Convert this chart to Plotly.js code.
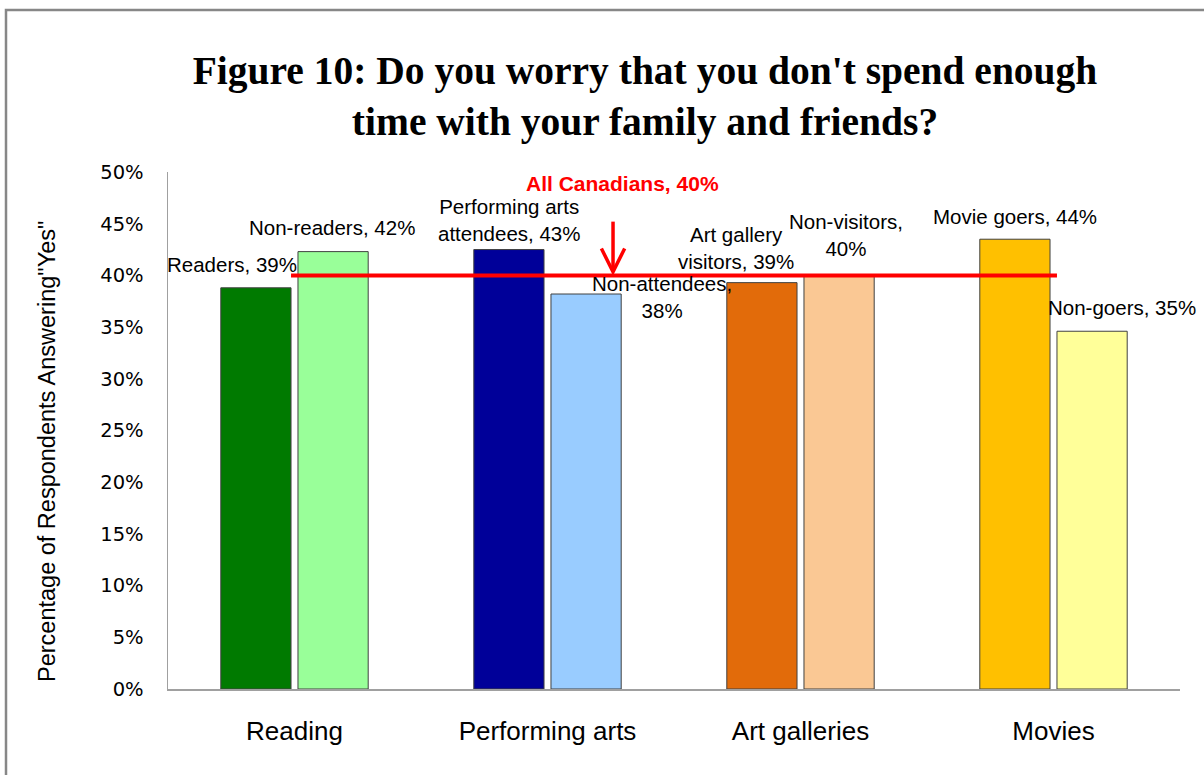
<!DOCTYPE html>
<html>
<head>
<meta charset="utf-8">
<script src="https://cdn.plot.ly/plotly-3.0.1.min.js"></script>
<style>
  html, body { margin: 0; padding: 0; background: #fff; overflow: hidden; }
  #chart { width: 1204px; height: 775px; }
</style>
</head>
<body>
<div id="chart"></div>
<script>
// ---- data ----
const categories = ['Reading', 'Performing arts', 'Art galleries', 'Movies'];
const series1Names = ['Readers', 'Performing arts<br>attendees', 'Art gallery<br>visitors', 'Movie goers'];
const series1Values = [38.8, 42.5, 39.3, 43.5];
const series2Names = ['Non-readers', 'Non-attendees', 'Non-visitors', 'Non-goers'];
const series2Values = [42.3, 38.2, 39.9, 34.6];
const allCanadians = 40;
const allCanadiansLabel = 'All Canadians';

// ---- styles ----
const series1Colors = ['#007A00', '#000099', '#E26B0A', '#FFC000'];
const series2Colors = ['#99FF99', '#99CCFF', '#FAC894', '#FFFF99'];
const bargap = 0.39, bargroupgap = 0.09;
const off = (1 - bargap) / 4;
const halfBar = ((1 - bargap) / 2) * (1 - bargroupgap) / 2;

// label separators and pixel offsets (dx right, dy down) relative to bar top centre
const sep1 = [', ', ', ', ', ', ', '];
const sep2 = [', ', ',<br>', ',<br>', ', '];
const lab1Off = [[-24, -23], [0, -30], [-26, -35], [0, -23]];
const lab2Off = [[-1, -24], [76, 3], [7, -41], [30, -24]];

const labelFont = {family: 'Liberation Sans, Arial, sans-serif', size: 20.5, color: '#000'};

const annotations = [];
categories.forEach((c, i) => {
  annotations.push({
    x: i - off, y: series1Values[i], xref: 'x', yref: 'y',
    text: series1Names[i] + sep1[i] + Math.round(series1Values[i]) + '%',
    showarrow: false, xanchor: 'center', yanchor: 'middle',
    xshift: lab1Off[i][0], yshift: -lab1Off[i][1], font: labelFont
  });
  annotations.push({
    x: i + off, y: series2Values[i], xref: 'x', yref: 'y',
    text: series2Names[i] + sep2[i] + Math.round(series2Values[i]) + '%',
    showarrow: false, xanchor: 'center', yanchor: 'middle',
    xshift: lab2Off[i][0], yshift: -lab2Off[i][1], font: labelFont
  });
});
// All Canadians label
annotations.push({
  x: 1.298, y: allCanadians, xref: 'x', yref: 'y', yshift: 92,
  text: '<b>' + allCanadiansLabel + ', ' + allCanadians + '%</b>',
  showarrow: false, xanchor: 'center', yanchor: 'middle',
  font: {family: 'Liberation Sans, Arial, sans-serif', size: 21, color: '#FF0000'}
});
// y-axis title
annotations.push({
  xref: 'paper', yref: 'paper', x: (47 - 168) / 1012, y: (689 - 452) / 517,
  text: 'Percentage of Respondents Answering"Yes"', textangle: -90,
  showarrow: false, xanchor: 'center', yanchor: 'middle',
  font: {family: 'Liberation Sans, Arial, sans-serif', size: 23.5, color: '#000'}
});

const arrowX = 1.259;
const shapes = [
  // All Canadians reference line
  {type: 'line', xref: 'x', yref: 'y', x0: 0 - off + halfBar, x1: 3 + off - halfBar,
   y0: allCanadians, y1: allCanadians, line: {color: '#FF0000', width: 4}},
  // arrow shaft
  {type: 'line', xref: 'x', yref: 'y', x0: arrowX, x1: arrowX, y0: allCanadians + 0.4, y1: allCanadians + 5.2,
   line: {color: '#FF0000', width: 3.5}},
  // arrow head (chevron)
  {type: 'path', xref: 'x', yref: 'y',
   path: `M ${arrowX - 0.046} ${allCanadians + 2.6} L ${arrowX} ${allCanadians + 0.35} L ${arrowX + 0.046} ${allCanadians + 2.6}`,
   line: {color: '#FF0000', width: 3.5}},
  // outer chart frame
  {type: 'path', xref: 'paper', yref: 'paper',
   path: `M ${(6 - 168) / 1012} -0.4 L ${(6 - 168) / 1012} ${(689 - 10) / 517} L 1.2 ${(689 - 10) / 517}`,
   line: {color: '#878787', width: 2.5}}
];

const traces = [
  {type: 'bar', x: categories, y: series1Values, name: 'Group 1',
   marker: {color: series1Colors, line: {color: '#404040', width: 1}}, hoverinfo: 'none'},
  {type: 'bar', x: categories, y: series2Values, name: 'Group 2',
   marker: {color: series2Colors, line: {color: '#404040', width: 1}}, hoverinfo: 'none'}
];

const layout = {
  width: 1204, height: 775,
  margin: {l: 168, r: 24, t: 172, b: 86},
  paper_bgcolor: '#fff', plot_bgcolor: '#fff',
  showlegend: false,
  barmode: 'group', bargap: bargap, bargroupgap: bargroupgap,
  title: {
    text: "<b>Figure 10: Do you worry that you don't spend enough<br>time with your family and friends?</b>",
    xref: 'container', yref: 'container', x: 645 / 1204, y: 1 - 84 / 775,
    xanchor: 'center', yanchor: 'middle',
    font: {family: 'Liberation Serif, Times New Roman, serif', size: 39.5, color: '#000'}
  },
  xaxis: {
    type: 'category', range: [-0.5, 3.5],
    showline: true, linecolor: '#A0A0A0', linewidth: 1.5,
    showgrid: false, zeroline: false, ticks: '',
    ticklabelstandoff: 18,
    tickfont: {family: 'Liberation Sans, Arial, sans-serif', size: 26, color: '#000'}
  },
  yaxis: {
    range: [0, 50], dtick: 5, tick0: 0, ticksuffix: '%',
    showline: true, linecolor: '#A0A0A0', linewidth: 1.5,
    showgrid: false, zeroline: false, ticks: '',
    ticklabelstandoff: 19,
    tickfont: {family: 'DejaVu Sans, Verdana, sans-serif', size: 19.5, color: '#000'}
  },
  annotations: annotations,
  shapes: shapes
};

Plotly.newPlot('chart', traces, layout, {displayModeBar: false, staticPlot: true});
</script>
</body>
</html>
